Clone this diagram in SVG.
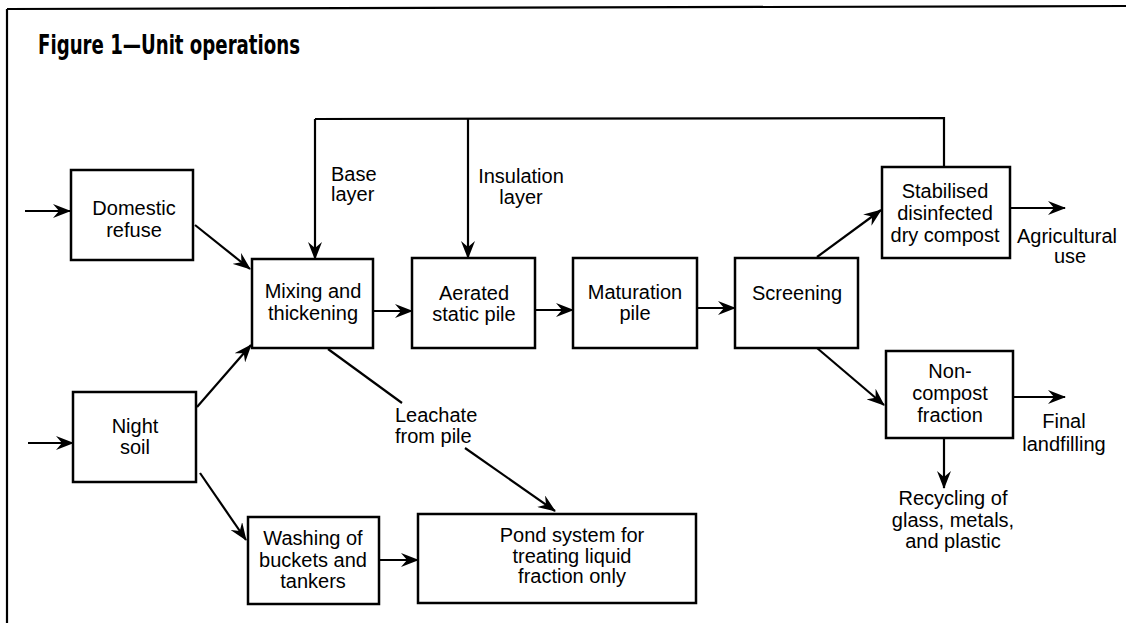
<svg xmlns="http://www.w3.org/2000/svg" width="1126" height="623" viewBox="0 0 1126 623">
<style>
.box{fill:#fff;stroke:#000;stroke-width:2.5}
.t{font-family:"Liberation Sans",Arial,sans-serif;font-size:20px;fill:#000;text-anchor:middle}
.l{font-family:"Liberation Sans",Arial,sans-serif;font-size:20px;fill:#000}
.c{fill:none;stroke:#000;stroke-width:2.2}
.a{fill:none;stroke:#000;stroke-width:2.2;marker-end:url(#ah)}
.title{font-family:"DejaVu Sans Condensed","DejaVu Sans",sans-serif;font-weight:bold;font-size:27px;fill:#000}
</style>
<defs>
<marker id="ah" markerUnits="userSpaceOnUse" markerWidth="18" markerHeight="14" refX="17" refY="7" orient="auto" viewBox="0 0 18 14">
<path d="M0,0 L18,7 L0,14 L6,7 Z" fill="#000"/>
</marker>
</defs>
<rect width="1126" height="623" fill="#fff"/>
<g id="frame">
<line x1="7" y1="9" x2="1126" y2="6" class="c"/>
<line x1="7" y1="9" x2="7" y2="623" class="c"/>
</g>
<text id="title" class="title" x="38" y="54" textLength="262" lengthAdjust="spacingAndGlyphs">Figure 1—Unit operations</text>

<g id="connectors">
<line class="a" x1="25" y1="211" x2="70" y2="211"/>
<line class="a" x1="28" y1="443" x2="73" y2="443"/>
<line class="a" x1="195" y1="225" x2="250" y2="269"/>
<line class="a" x1="197" y1="407" x2="251" y2="345"/>
<line class="a" x1="200" y1="473" x2="246" y2="540"/>
<polyline class="c" points="315,119 944,118 944,167"/>
<line class="a" x1="315" y1="119" x2="315" y2="259"/>
<line class="a" x1="468" y1="119" x2="468" y2="258"/>
<line class="a" x1="373" y1="311" x2="412" y2="311"/>
<line class="a" x1="535" y1="310" x2="573" y2="310"/>
<line class="a" x1="697" y1="308" x2="735" y2="308"/>
<line class="a" x1="817" y1="257" x2="881" y2="210"/>
<line class="a" x1="817" y1="348" x2="884" y2="405"/>
<line class="a" x1="1010" y1="208" x2="1065" y2="208"/>
<line class="a" x1="1013" y1="397" x2="1065" y2="397"/>
<line class="a" x1="944" y1="438" x2="944" y2="488"/>
<line class="c" x1="328" y1="349" x2="402" y2="403"/>
<line class="a" x1="465" y1="448" x2="555" y2="511"/>
<line class="a" x1="379" y1="560" x2="418" y2="560"/>
</g>

<g id="domestic">
<rect class="box" x="71" y="170" width="122" height="90"/>
<text class="t" x="134" y="215">Domestic</text>
<text class="t" x="134" y="237">refuse</text>
</g>
<g id="nightsoil">
<rect class="box" x="73" y="392" width="123" height="90"/>
<text class="t" x="135" y="433">Night</text>
<text class="t" x="135" y="454">soil</text>
</g>
<g id="mixing">
<rect class="box" x="252" y="259" width="121" height="89"/>
<text class="t" x="313" y="298">Mixing and</text>
<text class="t" x="313" y="320">thickening</text>
</g>
<g id="aerated">
<rect class="box" x="412" y="258" width="123" height="90"/>
<text class="t" x="474" y="300">Aerated</text>
<text class="t" x="474" y="321">static pile</text>
</g>
<g id="maturation">
<rect class="box" x="573" y="258" width="124" height="90"/>
<text class="t" x="635" y="299">Maturation</text>
<text class="t" x="635" y="320">pile</text>
</g>
<g id="screening">
<rect class="box" x="735" y="258" width="123" height="90"/>
<text class="t" x="797" y="300">Screening</text>
</g>
<g id="stabilised">
<rect class="box" x="882" y="167" width="128" height="91"/>
<text class="t" x="945" y="198">Stabilised</text>
<text class="t" x="945" y="220">disinfected</text>
<text class="t" x="945" y="242">dry compost</text>
</g>
<g id="noncompost">
<rect class="box" x="886" y="351" width="127" height="87"/>
<text class="t" x="950" y="378">Non-</text>
<text class="t" x="950" y="400">compost</text>
<text class="t" x="950" y="422">fraction</text>
</g>
<g id="washing">
<rect class="box" x="248" y="517" width="131" height="87"/>
<text class="t" x="313" y="545">Washing of</text>
<text class="t" x="313" y="567">buckets and</text>
<text class="t" x="313" y="588">tankers</text>
</g>
<g id="pond">
<rect class="box" x="418" y="514" width="278" height="89"/>
<text class="t" x="572" y="542">Pond system for</text>
<text class="t" x="572" y="563">treating liquid</text>
<text class="t" x="572" y="583">fraction only</text>
</g>

<g id="labels">
<text class="l" x="331" y="181">Base</text>
<text class="l" x="331" y="201">layer</text>
<text class="t" x="521" y="183">Insulation</text>
<text class="t" x="521" y="204">layer</text>
<text class="l" x="395" y="422">Leachate</text>
<text class="l" x="395" y="443">from pile</text>
<text class="l" x="1017" y="243">Agricultural</text>
<text class="t" x="1070" y="263">use</text>
<text class="t" x="1064" y="428">Final</text>
<text class="t" x="1064" y="451">landfilling</text>
<text class="t" x="953" y="505">Recycling of</text>
<text class="t" x="953" y="527">glass, metals,</text>
<text class="t" x="953" y="548">and plastic</text>
</g>
</svg>
